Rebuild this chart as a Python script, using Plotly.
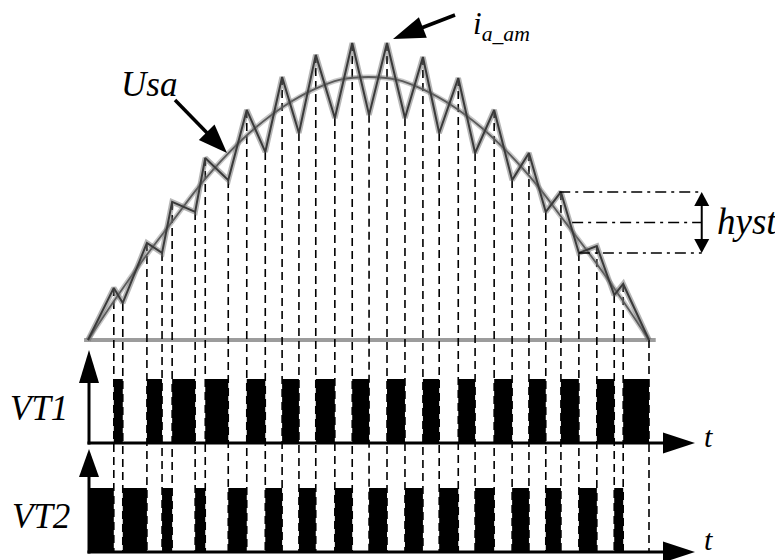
import math
import plotly.graph_objects as go

# ---------------- data ----------------
# switching instants of the hysteresis controller, ms (half period = 10 ms)
t_switch = [0.00, 0.46, 0.62, 1.05, 1.32, 1.50, 1.91, 2.09, 2.50, 2.83, 3.16,
            3.46, 3.76, 4.06, 4.40, 4.71, 5.01, 5.33, 5.65, 5.97, 6.26, 6.60,
            6.90, 7.24, 7.56, 7.86, 8.16, 8.43, 8.75, 9.07, 9.38, 9.54, 10.00]
# actual current i_a_am at those instants, p.u.
i_a_am = [0.000, 0.198, 0.141, 0.369, 0.331, 0.525, 0.487, 0.692, 0.608,
          0.875, 0.715, 1.000, 0.787, 1.084, 0.844, 1.129, 0.856, 1.129,
          0.844, 1.076, 0.787, 0.996, 0.711, 0.875, 0.608, 0.711, 0.487,
          0.563, 0.331, 0.357, 0.171, 0.213, 0.000]
# reference Usa, p.u.
t_ref = [0.0, 0.5, 1.0, 1.5, 2.0, 2.5, 3.0, 3.5, 4.0, 4.5, 5.0,
         5.5, 6.0, 6.5, 7.0, 7.5, 8.0, 8.5, 9.0, 9.5, 10.0]
usa = [0.00, 0.16, 0.31, 0.45, 0.59, 0.71, 0.81, 0.89, 0.95, 0.99, 1.00,
       0.99, 0.95, 0.89, 0.81, 0.71, 0.59, 0.45, 0.31, 0.16, 0.00]
# gate signals per switching interval
vt1 = [0, 1] * 16
vt2 = [1 - v for v in vt1]
# hysteresis band shown on the right
hyst_upper = 0.563
hyst_lower = 0.331
hyst_start = [8.40, 8.63, 8.75]   # start time of upper / mid / lower dash-dot line
hyst_end = 10.94

# ---------------- layout geometry (page pixels) ----------------
W, H = 783, 560
OFF = 8.0                      # default page margin around the figure
X0_PX, PX_PER_MS = 88.0, 56.1
I0_PX, PX_PER_PU = 340.0, 263.0
VT1_PX, VT2_PX, PULSE_PX = 443.0, 552.0, 64.0
SERIF = "Liberation Serif"


def xr():
    return [(OFF - X0_PX) / PX_PER_MS, (W + OFF - X0_PX) / PX_PER_MS]


def yr(zero_px, scale):
    return [(zero_px - (H + OFF)) / scale, (zero_px - OFF) / scale]


def PX(p):
    return (p - OFF) / W


def PY(p):
    return 1 - (p - OFF) / H


def tri(tip, d, length, width):
    tx, ty = tip
    n = math.hypot(*d)
    dx, dy = d[0] / n, d[1] / n
    bx, by = tx - dx * length, ty - dy * length
    px_, py_ = -dy * width / 2, dx * width / 2
    pts = [(tx, ty), (bx + px_, by + py_), (bx - px_, by - py_)]
    path = "M" + " L".join(f"{PX(a):.5f},{PY(b):.5f}" for a, b in pts) + " Z"
    return dict(type="path", xref="paper", yref="paper", path=path,
                fillcolor="black", line=dict(width=0), layer="above")


def seg(p0, p1, w=3, dash=None):
    ln = dict(color="black", width=w)
    if dash:
        ln["dash"] = dash
    return dict(type="line", xref="paper", yref="paper",
                x0=PX(p0[0]), y0=PY(p0[1]), x1=PX(p1[0]), y1=PY(p1[1]),
                line=ln, layer="above")


fig = go.Figure()

# dashed switching lines down to the VT2 time axis
bottom_val = (I0_PX - VT2_PX) / PX_PER_PU
dx_, dy_ = [], []
for t, i in zip(t_switch[1:], i_a_am[1:]):
    dx_ += [t, t, None]
    dy_ += [i, bottom_val, None]
fig.add_trace(go.Scatter(x=dx_, y=dy_, mode="lines", hoverinfo="skip",
                         line=dict(color="black", width=1.6, dash="8px,5px")))

# reference Usa (blurred gray look)
fig.add_trace(go.Scatter(x=t_ref, y=usa, mode="lines", hoverinfo="skip",
                         line=dict(color="rgba(130,130,130,0.45)", width=5, shape="spline")))
fig.add_trace(go.Scatter(x=t_ref, y=usa, mode="lines", hoverinfo="skip",
                         line=dict(color="#5a5a5a", width=1.8, shape="spline")))
# actual current
fig.add_trace(go.Scatter(x=t_switch, y=i_a_am, mode="lines", hoverinfo="skip",
                         line=dict(color="rgba(110,110,110,0.5)", width=5.5)))
fig.add_trace(go.Scatter(x=t_switch, y=i_a_am, mode="lines", hoverinfo="skip",
                         line=dict(color="#3a3a3a", width=2)))

# gate pulses
for states, ax in ((vt1, "y2"), (vt2, "y3")):
    fig.add_trace(go.Scatter(x=t_switch, y=states + [states[-1]], yaxis=ax,
                             mode="lines", fill="tozeroy", fillcolor="black",
                             line=dict(width=0, shape="hv", color="black"),
                             hoverinfo="skip"))

shapes = []
# zero line of the current
shapes.append(dict(type="line", xref="x", yref="y", x0=-0.07, x1=10.12, y0=0, y1=0,
                   line=dict(color="#9c9c9c", width=4), layer="below"))
# hysteresis band dash-dot lines
for ts, v in zip(hyst_start, [hyst_upper, (hyst_upper + hyst_lower) / 2, hyst_lower]):
    shapes.append(dict(type="line", xref="x", yref="y", x0=ts, x1=hyst_end, y0=v, y1=v,
                       line=dict(color="black", width=1.5, dash="11px,5px,3px,5px"),
                       layer="above"))
# hysteresis double arrow
hx = X0_PX + hyst_end * PX_PER_MS
hy_top = I0_PX - hyst_upper * PX_PER_PU
hy_bot = I0_PX - hyst_lower * PX_PER_PU
shapes.append(seg((hx, hy_top + 10), (hx, hy_bot - 10), w=2))
shapes.append(tri((hx, hy_top), (0, -1), 14, 15))
shapes.append(tri((hx, hy_bot), (0, 1), 14, 15))

# VT1 / VT2 axes with arrows
ax_x = X0_PX + 1
for base, tip_y, head in ((VT1_PX, 350, 33), (VT2_PX, 449, 28)):
    shapes.append(seg((ax_x, base + 1.5), (ax_x, tip_y + head - 2), w=3))
    shapes.append(tri((ax_x, tip_y), (0, -1), head, 20))
    shapes.append(seg((ax_x - 1.5, base), (665, base), w=3))
    shapes.append(tri((695, base), (1, 0), 32, 21))

# Usa arrow and i_a_am arrow
shapes.append(seg((175, 100), (212, 138), w=3.5))
shapes.append(tri((227, 153), (52, 53), 29, 22))
shapes.append(seg((455, 15), (420, 28.5), w=3.5))
shapes.append(tri((393, 39), (-62, 24), 32, 22))

ann = []


def label(text, x, y, size=35, xanchor="left", yanchor="middle"):
    ann.append(dict(text=text, xref="paper", yref="paper", x=PX(x), y=PY(y),
                    xanchor=xanchor, yanchor=yanchor, showarrow=False,
                    font=dict(family=SERIF, size=size, color="black")))


label("<i>Usa</i>", 119, 85)
label("<i>VT1</i>", 8, 408)
label("<i>VT2</i>", 10, 516)
label("<i>hyst</i>", 715, 221, size=37)
label("<i>t</i>", 702, 436, size=30)
label("<i>t</i>", 702, 539, size=30)
label("<i>i</i><sub><i>a_am</i></sub>", 471, 26, size=31)

fig.update_layout(
    width=W, height=H, autosize=False,
    margin=dict(l=0, r=0, t=0, b=0, pad=0),
    paper_bgcolor="white", plot_bgcolor="white",
    showlegend=False,
    font=dict(family=SERIF),
    xaxis=dict(range=xr(), visible=False, fixedrange=True),
    yaxis=dict(range=yr(I0_PX, PX_PER_PU), visible=False, fixedrange=True),
    yaxis2=dict(range=yr(VT1_PX, PULSE_PX), visible=False, overlaying="y", fixedrange=True),
    yaxis3=dict(range=yr(VT2_PX, PULSE_PX), visible=False, overlaying="y", fixedrange=True),
    shapes=shapes,
    annotations=ann,
)

fig.write_html("out.html", config=dict(displayModeBar=False))
